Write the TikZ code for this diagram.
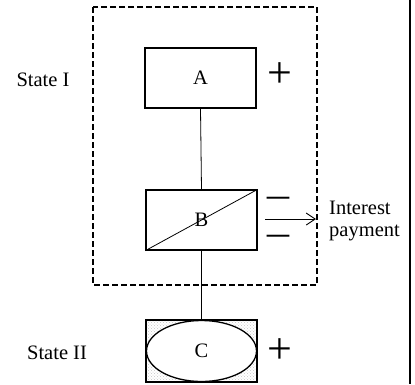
\documentclass[tikz,border=0pt]{standalone}
\usepackage{fontspec}
\setmainfont{Liberation Serif}
\usepackage{tikz}
\usetikzlibrary{arrows.meta,positioning,patterns}

\begin{document}
\begin{tikzpicture}[
    x=1pt, y=-1pt,
    font=\fontsize{20.5}{22}\selectfont,
    statebox/.style={draw, line width=1.3pt, minimum width=111pt, minimum height=60pt, inner sep=0pt},
    sign/.style={font=\fontsize{44}{44}\selectfont, inner sep=0pt, text height=16pt, text depth=-6pt},
    minussign/.style={font=\fontsize{28}{28}\selectfont\bfseries, inner sep=0pt},
    link/.style={line width=0.8pt},
    arrow/.style={-{Straight Barb[length=9pt, width=12pt]}, line width=0.9pt}
]
\useasboundingbox (0,0) rectangle (415,384);
% region of state I
\draw[dashed, dash pattern=on 6pt off 3pt, line width=1.1pt] (93,7) rectangle (317,285);
\node[statebox] (a) at (200.5,78) {A};
\node[statebox] (b) at (201.5,220) {B};
\node[statebox, minimum height=62pt, pattern=crosshatch dots, pattern color=gray!45] (c) at (201.5,351) {};
\draw[line width=1.3pt, fill=white] (c.center) ellipse (55pt and 30.5pt);
\node at (c.center) {C};
\draw[line width=0.8pt] (b.south west) -- (b.north east);
\draw[link] (a.south) -- (b.north);
\draw[link] (b.south) -- (c.north);
% signs
\node[sign] (pa) at (280,79) {+};
\node[sign] (pc) at (280,355) {+};
\node[minussign] (m1) at (278,202) {\scalebox{1.75}[1]{−}};
\node[minussign] (m2) at (278,240) {\scalebox{1.75}[1]{−}};
% interest payment
\node[align=left, anchor=west, inner sep=0pt] (pay) at (329,221) {Interest\\payment};
\coordinate (outstart) at (265,219);
\coordinate (outend) at (316,219);
\draw[arrow] (outstart) -- (outend);
% state labels
\node (s1) at (43,80) {State I};
\node (s2) at (57,353) {State II};
\draw[line width=1.4pt] (410,0) -- (410,384);
\end{tikzpicture}
\end{document}
